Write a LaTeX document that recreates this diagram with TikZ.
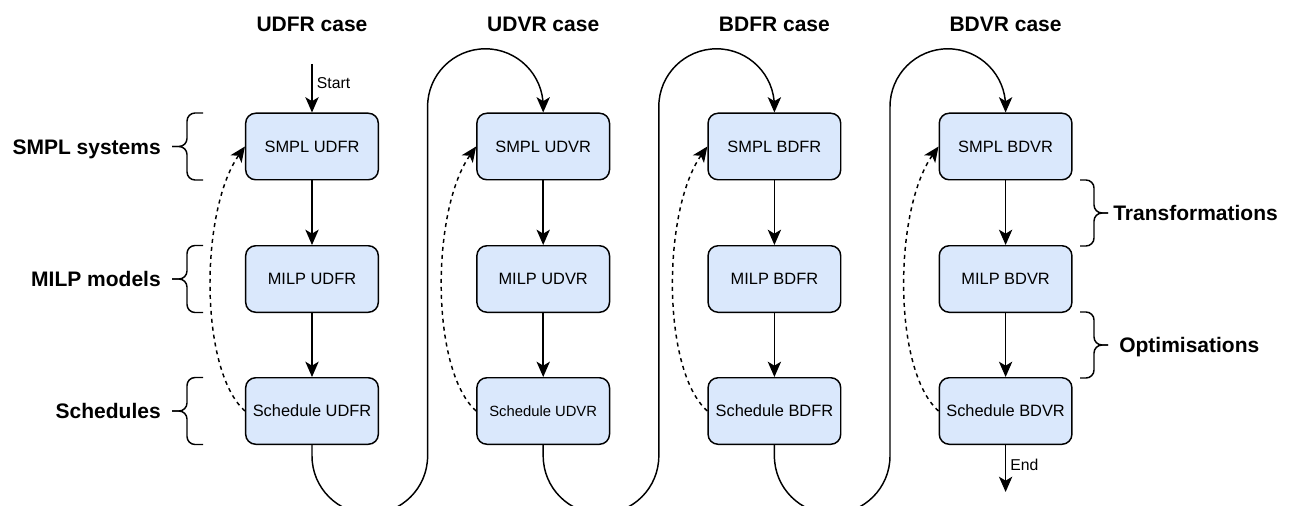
\documentclass[tikz,border=0pt]{standalone}
\usepackage{fontspec}
\setmainfont{Liberation Sans}
\usetikzlibrary{arrows.meta}
\definecolor{boxfill}{HTML}{DAE8FC}
\begin{document}
\begin{tikzpicture}[x=0.75pt,y=-0.75pt,
  stagebox/.style={draw=black, line width=1.1pt, fill=boxfill, rounded corners=7.5pt,
    minimum width=99.5pt, minimum height=49.9pt, inner sep=0pt,
    font=\fontsize{12.3}{14}\selectfont},
  flow/.style={line width=1.1pt, -{Stealth[length=11.5pt,width=10pt,inset=3pt]}},
  backflow/.style={flow, dash pattern=on 3pt off 3pt},
  heading/.style={font=\bfseries\fontsize{15.75}{18}\selectfont, inner sep=0pt,
    text height=11.3pt, text depth=0pt},
  tag/.style={font=\fontsize{11.8}{14}\selectfont, inner sep=0pt,
    text height=8.5pt, text depth=0pt, anchor=west},
  bracket/.style={line width=1.1pt, rounded corners=6pt}
]
\useasboundingbox (0,0) rectangle (1292,506);

% column headings
\node[heading] (hUDFR) at (312,23.5)    {UDFR case};
\node[heading] (hUDVR) at (543.2,23.5)  {UDVR case};
\node[heading] (hBDFR) at (774.4,23.5)  {BDFR case};
\node[heading] (hBDVR) at (1005.6,23.5) {BDVR case};

% stages of each case
\node[stagebox] (smplUDFR)  at (312,146.5) {SMPL UDFR};
\node[stagebox] (milpUDFR)  at (312,279)   {MILP UDFR};
\node[stagebox] (schedUDFR) at (312,411)   {Schedule UDFR};

\node[stagebox] (smplUDVR)  at (543.2,146.5) {SMPL UDVR};
\node[stagebox] (milpUDVR)  at (543.2,279)   {MILP UDVR};
\node[stagebox, font=\fontsize{11.1}{13}\selectfont] (schedUDVR) at (543.2,411) {Schedule UDVR};

\node[stagebox] (smplBDFR)  at (774.4,146.5) {SMPL BDFR};
\node[stagebox] (milpBDFR)  at (774.4,279)   {MILP BDFR};
\node[stagebox] (schedBDFR) at (774.4,411)   {Schedule BDFR};

\node[stagebox] (smplBDVR)  at (1005.6,146.5) {SMPL BDVR};
\node[stagebox] (milpBDVR)  at (1005.6,279)   {MILP BDVR};
\node[stagebox] (schedBDVR) at (1005.6,411)   {Schedule BDVR};

% forward flow inside each case, and the dashed feedback
\foreach \c in {UDFR,UDVR,BDFR,BDVR}{
  \draw[flow] (smpl\c) -- (milp\c);
  \draw[flow] (milp\c) -- (sched\c);
  \draw[backflow] (sched\c.west) .. controls +(-46,-41) and +(-45,64) .. (smpl\c.west);
}

% start and end
\coordinate (start) at (312,64);
\coordinate (finish) at (1005.6,492);
\draw[flow] (start) -- (smplUDFR.north);
\draw[flow] (schedBDVR.south) -- (finish);
\node[tag] (startlbl) at (316.7,82.7) {Start};
\node[tag] (endlbl) at (1010,465) {End};

% hand-over from one case to the next
\foreach \a/\b in {UDFR/UDVR, UDVR/BDFR, BDFR/BDVR}{
  \draw[flow] (sched\a.south) -- ++(0,11)
    .. controls +(0,31.9) and +(-31.9,0) .. ++(57.8,57.8)
    .. controls +(31.9,0) and +(0,31.9) .. ++(57.8,-57.8)
    -- ++(0,-349.4)
    .. controls +(0,-31.9) and +(-31.9,0) .. ++(57.8,-57.8)
    .. controls +(31.9,0) and +(0,-31.9) .. ++(57.8,57.8)
    -- (smpl\b.north);
}

% row brackets on the left
\foreach \yc/\txt in {146.5/SMPL systems, 279/MILP models, 411/Schedules}{
  \draw[bracket] (203,\yc-33.5) -| (187,\yc) -- (172,\yc);
  \draw[bracket] (203,\yc+33.5) -| (187,\yc) -- (172,\yc);
  \node[heading, anchor=east] at (161,\yc) {\txt};
}

% step brackets on the right
\draw[bracket] (1080,180) -| (1094,213) -- (1108,213);
\draw[bracket] (1080,246) -| (1094,213) -- (1108,213);
\node[heading, anchor=west] (trlbl) at (1113,213) {Transformations};
\draw[bracket] (1080,312) -| (1094,345) -- (1108,345);
\draw[bracket] (1080,378) -| (1094,345) -- (1108,345);
\node[heading, anchor=west] (oplbl) at (1119,345) {Optimisations};
\end{tikzpicture}
\end{document}
